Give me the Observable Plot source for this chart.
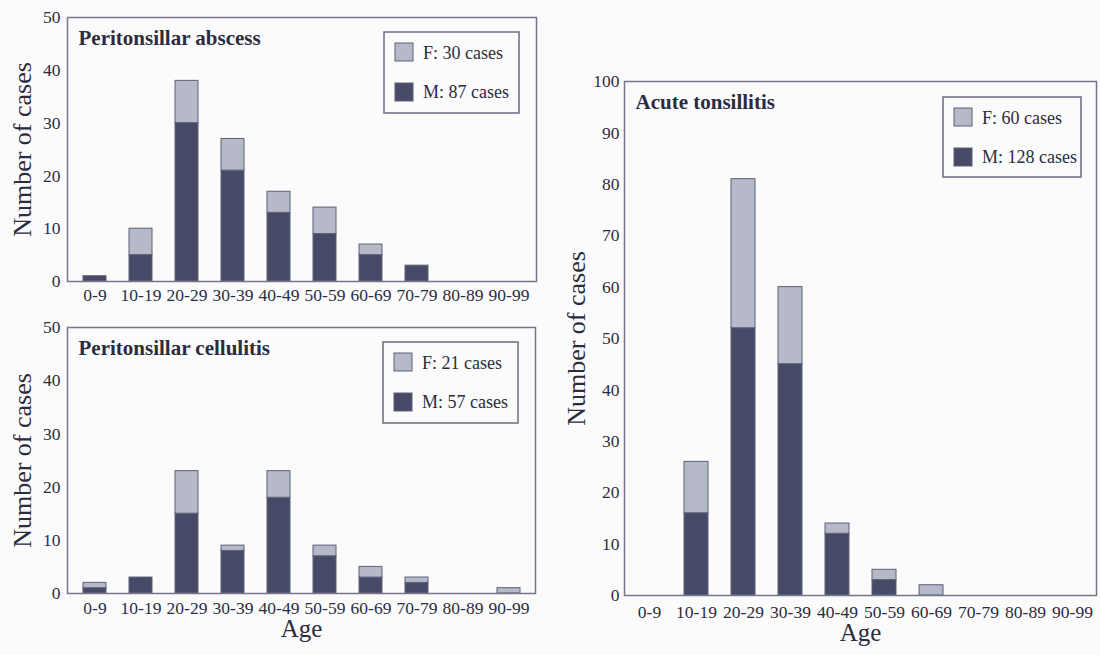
<!DOCTYPE html>
<html>
<head>
<meta charset="utf-8">
<script src="https://cdn.jsdelivr.net/npm/d3@7"></script>
<script src="https://cdn.jsdelivr.net/npm/@observablehq/plot@0.6"></script>
<style>
  html, body { margin: 0; padding: 0; background: #fbfbfb; }
  #root { position: relative; width: 1100px; height: 655px; overflow: hidden; font-family: "Liberation Serif", "Times New Roman", serif; color: #2b2d3f; }
  .panel { position: absolute; }
</style>
</head>
<body>
<div id="root"></div>
<script>
// ---- Data ----
const ageGroups = ["0-9", "10-19", "20-29", "30-39", "40-49", "50-59", "60-69", "70-79", "80-89", "90-99"];

const abscessM = [1, 5, 30, 21, 13, 9, 5, 3, 0, 0];
const abscessF = [0, 5, 8, 6, 4, 5, 2, 0, 0, 0];

const cellulitisM = [1, 3, 15, 8, 18, 7, 3, 2, 0, 0];
const cellulitisF = [1, 0, 8, 1, 5, 2, 2, 1, 0, 1];

const tonsillitisM = [0, 16, 52, 45, 12, 3, 0, 0, 0, 0];
const tonsillitisF = [0, 10, 29, 15, 2, 2, 2, 0, 0, 0];

const ticks50 = [0, 10, 20, 30, 40, 50];
const ticks100 = [0, 10, 20, 30, 40, 50, 60, 70, 80, 90, 100];

const titles = ["Peritonsillar abscess", "Peritonsillar cellulitis", "Acute tonsillitis"];
const sexes = ["F", "M"];

// ---- Styles ----
const FONT = "Liberation Serif";
const INK = "#2b2d3f";
const LIGHT = "#b6b9c7";
const DARK = "#474a66";
const EDGE = "#5d6078";

function rowsFor(m, f) {
  const rows = [];
  ageGroups.forEach((a, i) => {
    rows.push({age: a, sex: "M", n: m[i]});
    rows.push({age: a, sex: "F", n: f[i]});
  });
  return rows.filter(d => d.n > 0);
}

function panel({title, m, f, yTicks, left, top, width, height, ml, mr, mt, mb, xPad, yPad, ageLabel, ageDy, yLabelOffset}) {
  const marks = [
    Plot.barY(rowsFor(m, f), {x: "age", y: "n", fill: "sex", stroke: EDGE, strokeWidth: 1}),
    Plot.frame({stroke: "#74778a", strokeWidth: 1.5}),
    Plot.axisX({tickSize: 0, tickPadding: xPad, label: null, fontSize: 17.5}),
    Plot.axisY({ticks: yTicks, tickSize: 0, tickPadding: yPad, label: null, fontSize: 17.5}),
    Plot.text([title], {text: d => d, frameAnchor: "top-left", dx: 11, dy: 13, lineAnchor: "top", textAnchor: "start", fontWeight: "bold", fontSize: 21}),
    Plot.text(["Number of cases"], {text: d => d, frameAnchor: "left", rotate: -90, dx: -yLabelOffset, lineAnchor: "top", textAnchor: "middle", fontSize: 26})
  ];
  if (ageLabel) marks.push(Plot.text(["Age"], {text: d => d, frameAnchor: "bottom", dy: ageDy, textAnchor: "middle", fontSize: 25}));
  const chart = Plot.plot({
    width, height,
    marginLeft: ml, marginRight: mr, marginTop: mt, marginBottom: mb,
    style: {fontFamily: FONT, fontSize: "17px", color: INK, background: "transparent", overflow: "visible"},
    x: {type: "band", domain: ageGroups, paddingInner: 0.5, paddingOuter: 0.25},
    y: {domain: [yTicks[0], yTicks[yTicks.length - 1]]},
    color: {domain: sexes, range: [LIGHT, DARK]},
    marks
  });
  const wrap = document.createElement("div");
  wrap.className = "panel";
  wrap.style.left = left + "px";
  wrap.style.top = top + "px";
  wrap.appendChild(chart);
  document.getElementById("root").appendChild(wrap);
}

function legend({left, top, w, h, m, f}) {
  const labels = [`F: ${d3.sum(f)} cases`, `M: ${d3.sum(m)} cases`];
  const colors = [LIGHT, DARK];
  const svg = d3.create("svg")
    .attr("width", w + 4).attr("height", h + 4)
    .style("position", "absolute")
    .style("left", (left - 2) + "px").style("top", (top - 2) + "px")
    .style("overflow", "visible");
  svg.append("rect").attr("x", 2).attr("y", 2).attr("width", w).attr("height", h)
    .attr("fill", "none").attr("stroke", "#6a6d82").attr("stroke-width", 1.5);
  labels.forEach((lab, i) => {
    svg.append("rect").attr("x", 2 + 11).attr("y", 2 + 11 + i * 40).attr("width", 18).attr("height", 18)
      .attr("fill", colors[i]).attr("stroke", EDGE).attr("stroke-width", 1);
    svg.append("text").attr("x", 2 + 39).attr("y", 2 + 27 + i * 39)
      .attr("font-family", FONT).attr("font-size", 18).attr("fill", INK).text(lab);
  });
  document.getElementById("root").appendChild(svg.node());
}

panel({title: titles[0], m: abscessM, f: abscessF, yTicks: ticks50,
  left: 0, top: 0, width: 550, height: 310, ml: 67, mr: 14, mt: 17, mb: 29,
  xPad: 7, yPad: 7, ageLabel: false, yLabelOffset: 55});
panel({title: titles[1], m: cellulitisM, f: cellulitisF, yTicks: ticks50,
  left: 0, top: 310, width: 550, height: 345, ml: 67, mr: 15, mt: 17, mb: 62,
  xPad: 8, yPad: 7, ageLabel: true, ageDy: 43, yLabelOffset: 55});
panel({title: titles[2], m: tonsillitisM, f: tonsillitisF, yTicks: ticks100,
  left: 556, top: 0, width: 544, height: 655, ml: 68, mr: 4, mt: 81, mb: 60,
  xPad: 10, yPad: 5, ageLabel: true, ageDy: 45, yLabelOffset: 58});

legend({left: 384, top: 32, w: 135, h: 81, m: abscessM, f: abscessF});
legend({left: 383, top: 342, w: 135, h: 81, m: cellulitisM, f: cellulitisF});
legend({left: 943, top: 97, w: 138, h: 80, m: tonsillitisM, f: tonsillitisF});
</script>
</body>
</html>
